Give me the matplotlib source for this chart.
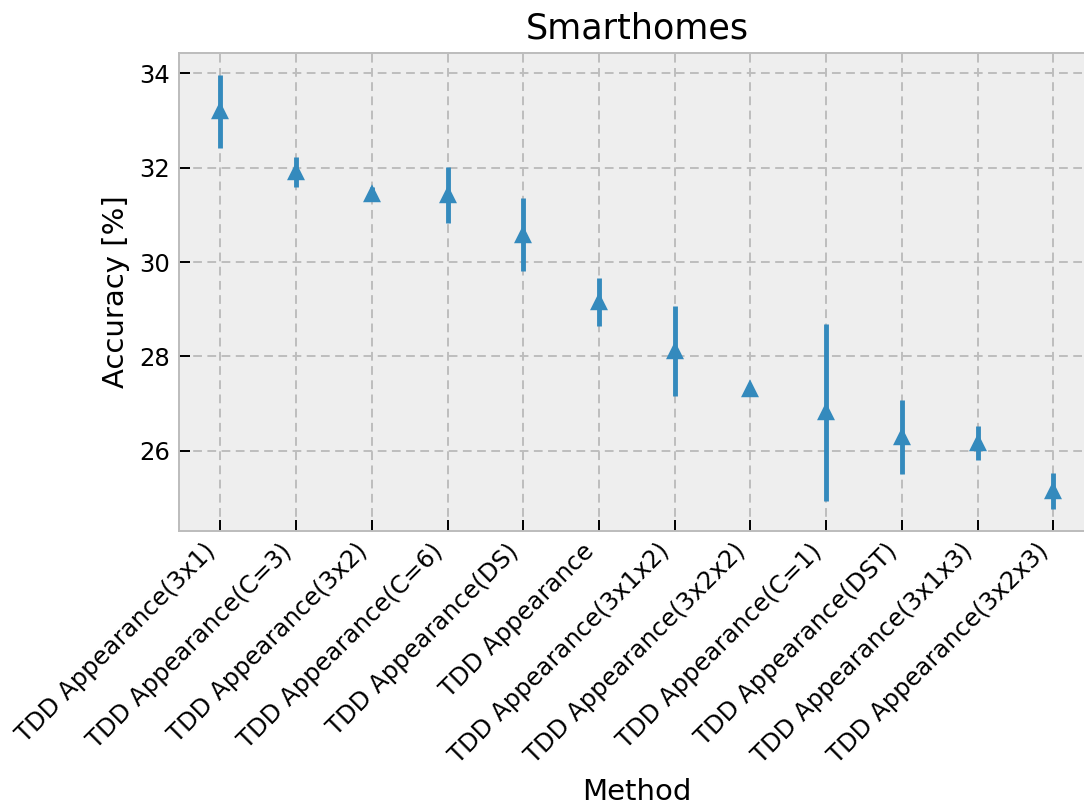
import numpy as np
import matplotlib
matplotlib.use('Agg')
import matplotlib.pyplot as plt

methods = ['TDD Appearance(3x1)', 'TDD Appearance(C=3)', 'TDD Appearance(3x2)',
           'TDD Appearance(C=6)', 'TDD Appearance(DS)', 'TDD Appearance',
           'TDD Appearance(3x1x2)', 'TDD Appearance(3x2x2)', 'TDD Appearance(C=1)',
           'TDD Appearance(DST)', 'TDD Appearance(3x1x3)', 'TDD Appearance(3x2x3)']
acc_mean = [33.19, 31.91, 31.45, 31.42, 30.58, 29.15, 28.11, 27.32, 26.82, 26.30, 26.17, 25.15]
acc_err = [0.77, 0.32, 0.15, 0.60, 0.77, 0.51, 0.95, 0.08, 1.87, 0.78, 0.36, 0.38]

plt.style.use('bmh')
DPI = 175
fig = plt.figure(figsize=(1084 / DPI, 809 / DPI), dpi=DPI)
# right edge of the axes runs past the image, as in the reference crop
ax = fig.add_axes([0.165, 0.344, 0.845, 0.59])

x = np.arange(len(methods))
ax.errorbar(x, acc_mean, yerr=acc_err, fmt='^', markersize=6, color='#348ABD')
ax.set_xticks(x)
ax.set_xticklabels(methods, rotation=45, ha='right')
ax.set_xlabel('Method')
ax.set_ylabel('Accuracy [%]')
ax.set_title('Smarthomes')

ax.grid(True, color='#bdbdbd', linewidth=0.8, dashes=(4.5, 2.8))
ax.tick_params(direction='in', color='black', length=4.5, width=0.8)

fig.savefig('out.png', dpi=DPI)
